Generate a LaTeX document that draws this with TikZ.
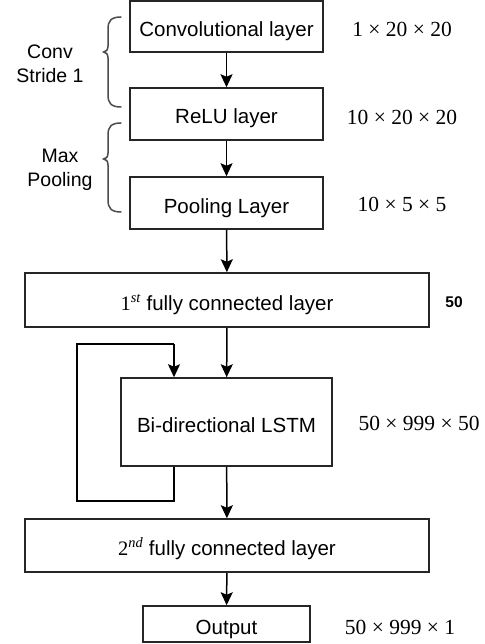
\documentclass[tikz,border=0pt]{standalone}
\usepackage{fontspec}
\setmainfont{Liberation Sans}
\newfontfamily\seriffont{Liberation Serif}
\usetikzlibrary{arrows.meta}
\begin{document}
\begin{tikzpicture}[x=1pt,y=-1pt,
  layer/.style={draw=black!85,line width=1.5pt,inner sep=0pt,text height=20pt,text depth=0pt,font=\fontsize{20.5}{24}\selectfont},
  dimlabel/.style={inner sep=0pt,font=\seriffont\fontsize{21.5}{24}\selectfont},
  sidelabel/.style={inner sep=0pt,align=center,font=\fontsize{19.5}{24}\selectfont},
  flow/.style={draw=black,line width=1.5pt,-{Stealth[length=13pt,width=12pt,inset=2.5pt]}},
  loopline/.style={draw=black,line width=1.5pt},
  bracket/.style={draw=black!70,line width=1.5pt,line cap=round}]
\useasboundingbox (0,0) rectangle (484,644);
% boxes
\node[layer,minimum width=193pt,minimum height=51pt] (conv) at (226.5,26.5) {Convolutional layer};
\node[layer,minimum width=193pt,minimum height=52pt] (relu) at (226.5,114) {ReLU layer};
\node[layer,minimum width=193pt,minimum height=52pt] (pool) at (226.5,203) {Pooling Layer};
\node[layer,minimum width=404pt,minimum height=54pt] (fc1) at (227,300) {{\seriffont 1\textsuperscript{\itshape st}}\ fully connected layer};
\node[layer,minimum width=211pt,minimum height=88pt] (lstm) at (226.5,422) {Bi-directional LSTM};
\node[layer,minimum width=404pt,minimum height=53pt] (fc2) at (227,545.5) {{\seriffont 2\textsuperscript{\itshape nd}}\ fully connected layer};
\node[layer,minimum width=167pt,minimum height=36pt] (out) at (226.5,624) {Output};
% dimension labels
\node[dimlabel] (d1) at (402,29) {1 × 20 × 20};
\node[dimlabel] (d2) at (402,117) {10 × 20 × 20};
\node[dimlabel] (d3) at (402,204) {10 × 5 × 5};
\node[inner sep=0pt,font=\bfseries\fontsize{15.5}{18}\selectfont] (d4) at (454,302) {50};
\node[dimlabel] (d5) at (419,423) {50 × 999 × 50};
\node[dimlabel] (d6) at (400,627) {50 × 999 × 1};
% side labels
\node[sidelabel] (convlab) at (50,64) {Conv\\Stride 1};
\node[sidelabel] (maxlab) at (60,170) {Max\\Pooling};
% brackets
\draw[bracket] (121,17) .. controls (111,17) and (108,21) .. (108,29) -- (108,46) .. controls (108,50) and (106,52) .. (103.5,52) .. controls (106,52) and (108,54) .. (108,58) -- (108,95) .. controls (108,103) and (111,107) .. (121,107);
\draw[bracket] (121,123) .. controls (111,123) and (108,127) .. (108,135) -- (108,153) .. controls (108,157) and (106,159) .. (103.5,159) .. controls (106,159) and (108,161) .. (108,165) -- (108,200) .. controls (108,208) and (111,212) .. (121,212);
% connectors
\draw[flow] (conv) -- (relu);
\draw[flow] (relu) -- (pool);
\draw[flow] (pool) -- (fc1);
\draw[flow] (fc1) -- (lstm);
\draw[flow] (lstm) -- (fc2);
\draw[flow] (fc2) -- (out);
\coordinate (lb) at (174,501);
\coordinate (lt) at (77,344);
\draw[loopline] (lstm.south -| lb) -- (lb) -- (lb -| lt) -- (lt) -- (lt -| lb);
\draw[flow] (lt -| lb) -- (lstm.north -| lb);
\end{tikzpicture}
\end{document}
